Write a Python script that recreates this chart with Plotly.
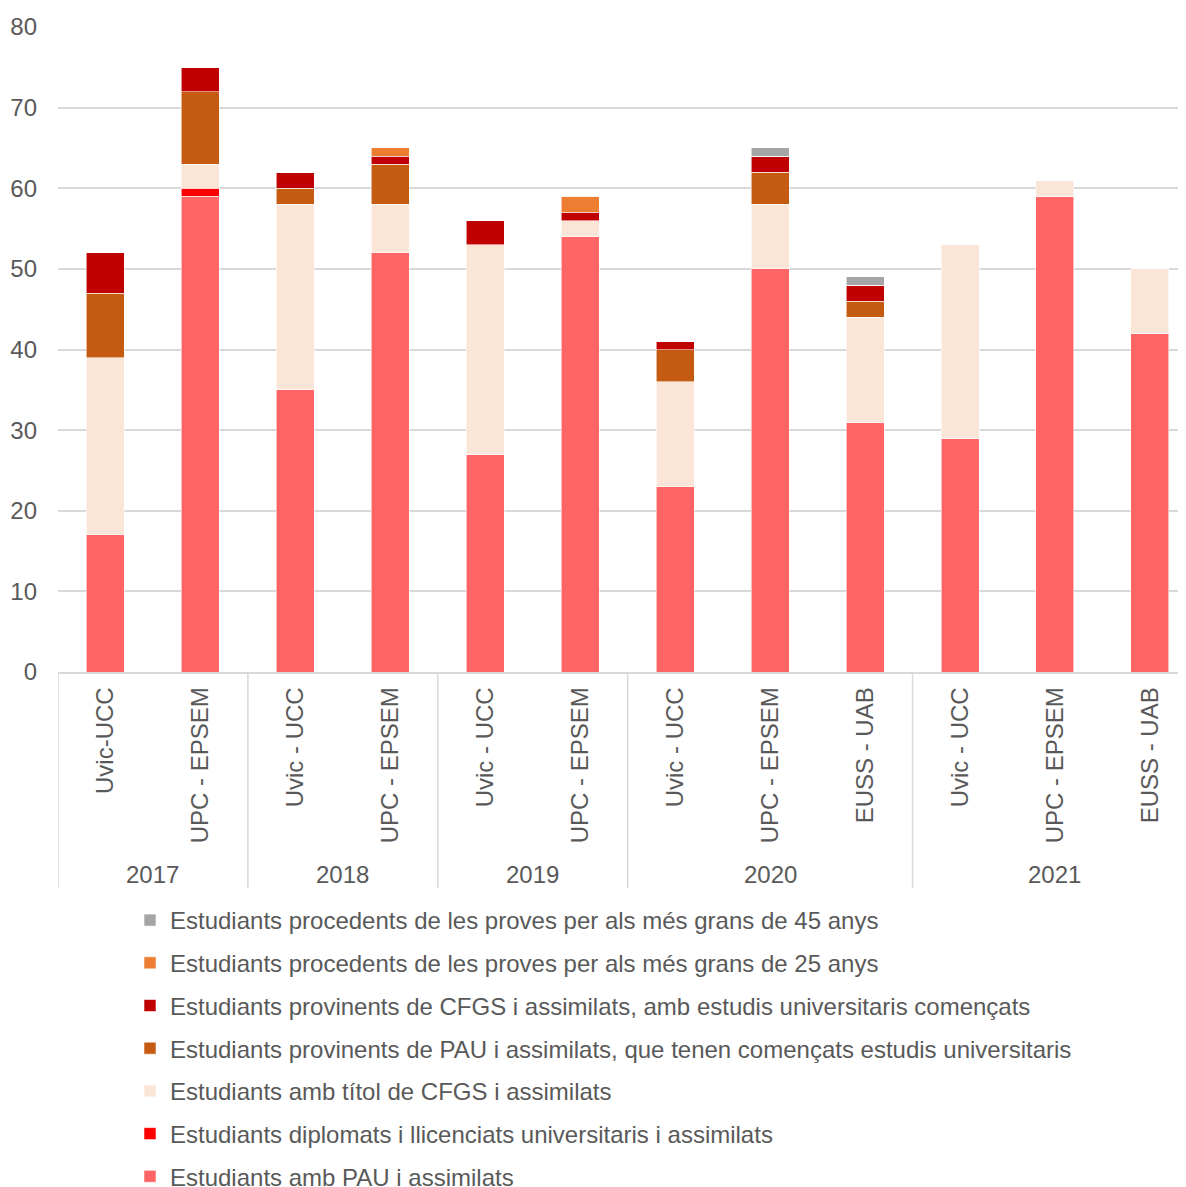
import plotly.graph_objects as go

years = ["2017", "2018", "2019", "2020", "2021"]
centres = ["Uvic-UCC", "UPC - EPSEM",
           "Uvic - UCC", "UPC - EPSEM",
           "Uvic - UCC", "UPC - EPSEM",
           "Uvic - UCC", "UPC - EPSEM", "EUSS - UAB",
           "Uvic - UCC", "UPC - EPSEM", "EUSS - UAB"]
year_of_bar = ["2017", "2017", "2018", "2018", "2019", "2019",
               "2020", "2020", "2020", "2021", "2021", "2021"]

pau = [17, 59, 35, 52, 27, 54, 23, 50, 31, 29, 59, 42]
diplomats = [0, 1, 0, 0, 0, 0, 0, 0, 0, 0, 0, 0]
titol_cfgs = [22, 3, 23, 6, 26, 2, 13, 8, 13, 24, 2, 8]
pau_comencats = [8, 9, 2, 5, 0, 0, 4, 4, 2, 0, 0, 0]
cfgs_comencats = [5, 3, 2, 1, 3, 1, 1, 2, 2, 0, 0, 0]
majors_25 = [0, 0, 0, 1, 0, 2, 0, 0, 0, 0, 0, 0]
majors_45 = [0, 0, 0, 0, 0, 0, 0, 1, 1, 0, 0, 0]

series = [
    ("Estudiants amb PAU i assimilats", pau, "#FF6565"),
    ("Estudiants diplomats i llicenciats universitaris i assimilats", diplomats, "#FF0000"),
    ("Estudiants amb títol de CFGS i assimilats", titol_cfgs, "#FBE5D6"),
    ("Estudiants provinents de PAU i assimilats, que tenen començats estudis universitaris", pau_comencats, "#C55A11"),
    ("Estudiants provinents de CFGS i assimilats, amb estudis universitaris començats", cfgs_comencats, "#C00000"),
    ("Estudiants procedents de les proves per als més grans de 25 anys", majors_25, "#ED7D31"),
    ("Estudiants procedents de les proves per als més grans de 45 anys", majors_45, "#A5A5A5"),
]

xpos = list(range(len(centres)))
grey = "#595959"
font = "Liberation Sans, Arial, sans-serif"
fs = 24

# the html page adds an 8px body margin, so the figure is 8px smaller
W, H = 1178, 1179

fig = go.Figure()
for i, (name, vals, col) in enumerate(series):
    fig.add_trace(go.Bar(
        x=xpos, y=vals, name=name, legendgroup=str(i), legendrank=100 - i,
        marker=dict(color=col, line=dict(color="rgba(255,255,255,0.7)", width=0.8)),
        width=0.4,
    ))

plot_h = 645
line_bottom = -216 / plot_h

# group separators
for b in [-0.5, 1.5, 3.5, 5.5, 8.5]:
    fig.add_shape(type="line", xref="x", yref="paper", x0=b, x1=b, y0=0, y1=line_bottom,
                  line=dict(color="#D9D9D9", width=1.5))

# year labels
for y in years:
    idx = [i for i, v in enumerate(year_of_bar) if v == y]
    fig.add_annotation(x=(idx[0] + idx[-1]) / 2, y=-202 / plot_h, xref="x", yref="paper",
                       text=y, showarrow=False, yanchor="middle",
                       font=dict(size=fs, color=grey, family=font))

fig.update_layout(
    barmode="stack",
    width=W, height=H,
    margin=dict(l=50, r=0, t=19, b=H - 19 - plot_h, autoexpand=False),
    plot_bgcolor="white", paper_bgcolor="white",
    font=dict(family=font, size=fs, color=grey),
    showlegend=True,
    legend=dict(traceorder="grouped", tracegroupgap=8.5,
                xref="container", yref="container", x=122 / W, y=1 - 890 / H,
                xanchor="left", yanchor="top", maxheight=400,
                font=dict(size=fs, color=grey, family=font)),
    xaxis=dict(range=[-0.5, 11.38], tickvals=xpos, ticktext=centres, tickangle=-90,
               showgrid=False, showline=True, linecolor="#D9D9D9", linewidth=1.5,
               ticks="", ticklabelstandoff=4, zeroline=False,
               tickfont=dict(size=fs, color=grey)),
    yaxis=dict(range=[0, 80], dtick=10, showgrid=True, gridcolor="#D9D9D9", gridwidth=1.5,
               zeroline=False, ticks="", ticklabelstandoff=20,
               tickfont=dict(size=fs, color=grey)),
)

fig.write_html("out.html")
